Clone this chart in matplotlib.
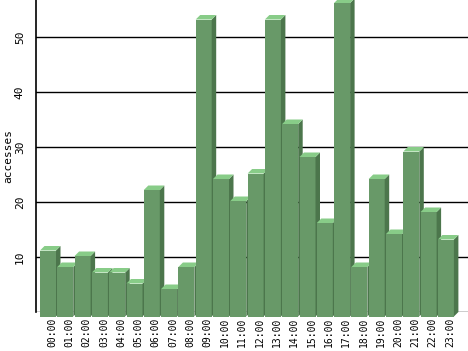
import numpy as np
import matplotlib
matplotlib.use("Agg")
from matplotlib import pyplot as plt

hours = ["%02d:00" % h for h in range(24)]
accesses = [12, 9, 11, 8, 8, 6, 23, 5, 9, 54, 25, 21, 26, 54, 35, 29, 17, 57, 9, 25, 15, 30, 19, 14]
yticks = [10, 20, 30, 40, 50]

front_col = "#689968"
top_col = "#88cc88"
side_col = "#4c764c"

plt.rcParams["font.family"] = "DejaVu Sans Mono"

fig = plt.figure(figsize=(4.68, 3.51), dpi=100)
ax = fig.add_axes([36 / 468, 39 / 351, 432 / 468, 312 / 351])

ax.set_xlim(-12 / 17.3, 420 / 17.3)
ax.set_ylim(0, 312 / 5.5)

# fake 3d depth, in data units (about 4.5 px)
dx = 4.5 / 17.3
dy = 4.5 / 5.5
w = 16 / 17.3

for y in [0] + yticks:
    ax.axhline(y, color="black", lw=1, zorder=1)

for i, v in enumerate(accesses):
    ax.bar(i, v, width=w, bottom=-dy, color=front_col, lw=0, zorder=2, clip_on=False)
    xr = i + w / 2
    xl = i - w / 2
    ax.fill([xr, xr + dx, xr + dx, xr], [-dy, 0, v, v - dy],
            color=side_col, lw=0, zorder=2, clip_on=False)
    ax.fill([xl, xl + dx, xr + dx, xr], [v - dy, v, v, v - dy],
            color=top_col, lw=0, zorder=2, clip_on=False)

for s in ["top", "right", "bottom"]:
    ax.spines[s].set_visible(False)
ax.spines["left"].set_linewidth(1.2)
ax.spines["left"].set_zorder(3)

ax.set_xticks(np.arange(24) + dx / 2 + 0.1)
ax.set_xticklabels(hours, rotation=90, fontsize=7)
ax.set_yticks(yticks)
ax.set_yticklabels([str(t) for t in yticks], rotation=90, va="center", fontsize=8)
ax.tick_params(axis="x", length=0, pad=4)
ax.tick_params(axis="y", length=0, pad=8)

ax.set_ylabel("accesses", fontsize=8)
ax.yaxis.set_label_coords(-0.052, 0.5)

fig.savefig("out.png", dpi=100)
